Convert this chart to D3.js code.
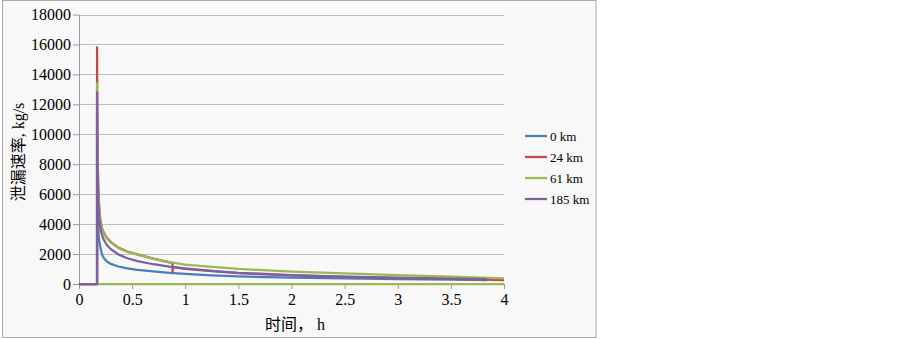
<!DOCTYPE html>
<html>
<head>
<meta charset="utf-8">
<script src="https://cdn.jsdelivr.net/npm/d3@7"></script>
<style>
  body { margin: 0; background: #fff; }
  text { font-family: "Liberation Serif", "Noto Sans CJK SC", serif; fill: #000; }
</style>
</head>
<body>
<div id="chart"></div>
<script>
// Leak rate vs time for four rupture locations

const seriesNames = ["0 km", "24 km", "61 km", "185 km"];
const seriesColors = ["#4a7ebb", "#be4b48", "#98b954", "#7d60a0"];

// 0 km
const time0 = [0, 0.17, 0.17, 0.172, 0.175, 0.18, 0.185, 0.19, 0.2, 0.21, 0.22, 0.235, 0.26, 0.3, 0.37, 0.455, 0.55, 0.7, 0.85, 1.0, 1.25, 1.5, 2.0, 2.5, 3.0, 3.5, 3.84];
const rate0 = [0, 0, 11500, 7500, 5500, 4000, 3300, 2900, 2500, 2150, 1920, 1720, 1520, 1340, 1170, 1040, 950, 840, 750, 680, 580, 505, 430, 375, 325, 285, 260];

// 24 km
const time24 = [0, 0.17, 0.17, 0.172, 0.175, 0.18, 0.185, 0.19, 0.2, 0.21, 0.22, 0.235, 0.26, 0.3, 0.37, 0.455, 0.55, 0.7, 0.88, 0.88, 0.885, 1.0, 1.25, 1.5, 2.0, 2.5, 3.0, 3.5, 4.0];
const rate24 = [0, 0, 15800, 11500, 9000, 7000, 5900, 5150, 4350, 3900, 3650, 3420, 3100, 2800, 2430, 2170, 1980, 1700, 1400, 800, 1120, 1010, 855, 725, 575, 470, 395, 335, 265];

// 61 km
const time61 = [4, 0, 0.17, 0.17, 0.172, 0.175, 0.18, 0.185, 0.19, 0.2, 0.21, 0.22, 0.235, 0.26, 0.3, 0.37, 0.455, 0.55, 0.7, 0.85, 1.0, 1.25, 1.5, 2.0, 2.5, 3.0, 3.5, 4.0];
const rate61 = [0, 0, 0, 13400, 10500, 8600, 6800, 5700, 5000, 4200, 3800, 3580, 3350, 3050, 2760, 2400, 2140, 1960, 1680, 1460, 1300, 1140, 1010, 830, 710, 600, 490, 380];

// 185 km
const time185 = [0, 0.17, 0.17, 0.172, 0.175, 0.18, 0.185, 0.19, 0.2, 0.21, 0.22, 0.235, 0.26, 0.3, 0.37, 0.455, 0.55, 0.7, 0.85, 1.0, 1.25, 1.5, 2.0, 2.5, 3.0, 3.5, 3.84];
const rate185 = [0, 0, 12800, 9500, 7600, 6000, 5000, 4400, 3800, 3450, 3200, 2940, 2620, 2320, 1980, 1720, 1530, 1320, 1160, 1040, 880, 750, 600, 495, 420, 360, 320];

const xTicks = [0, 0.5, 1, 1.5, 2, 2.5, 3, 3.5, 4];
const yTicks = [0, 2000, 4000, 6000, 8000, 10000, 12000, 14000, 16000, 18000];

const allTimes = [time0, time24, time61, time185];
const allRates = [rate0, rate24, rate61, rate185];

const width = 903;
const height = 339;

const svg = d3.select("#chart")
  .append("svg")
  .attr("width", width)
  .attr("height", height);

// chart frame
svg.append("rect")
  .attr("x", 2.5)
  .attr("y", 0.5)
  .attr("width", 593.5)
  .attr("height", 337)
  .attr("fill", "#f8f8f8")
  .attr("stroke", "#acacac");

const x = d3.scaleLinear().domain([0, 4]).range([79, 504]);
const y = d3.scaleLinear().domain([0, 18000]).range([284, 14.5]);

// gridlines
svg.append("g")
  .selectAll("line")
  .data(yTicks)
  .join("line")
  .attr("x1", x(0))
  .attr("x2", x(4))
  .attr("y1", d => Math.round(y(d)) + 0.5)
  .attr("y2", d => Math.round(y(d)) + 0.5)
  .attr("stroke", "#bdbdbd")
  .attr("stroke-width", 1);

// axes
const yAxis = svg.append("g")
  .attr("transform", `translate(${x(0)},0)`)
  .call(d3.axisLeft(y)
    .tickValues(yTicks)
    .tickFormat(d3.format("d"))
    .tickSize(6)
    .tickSizeOuter(0)
    .tickPadding(2));

const xAxis = svg.append("g")
  .attr("transform", `translate(0,${y(0)})`)
  .call(d3.axisBottom(x)
    .tickValues(xTicks)
    .tickFormat(d => String(d))
    .tickSize(5)
    .tickSizeOuter(0)
    .tickPadding(5));

[yAxis, xAxis].forEach(a => {
  a.attr("font-family", null).attr("font-size", null);
  a.selectAll("path, line").attr("stroke", "#999");
  a.selectAll("text")
    .style("font-size", "16px")
    .attr("fill", "#000");
});

// axis titles
svg.append("text")
  .attr("transform", `translate(24,152) rotate(-90)`)
  .attr("text-anchor", "middle")
  .style("font-size", "16px")
  .text("泄漏速率, kg/s");

svg.append("text")
  .attr("x", 295)
  .attr("y", 330)
  .attr("text-anchor", "middle")
  .style("font-size", "16px")
  .text("时间，  h");

// lines
const line = d3.line()
  .x(d => x(d[0]))
  .y(d => y(d[1]));

svg.append("g")
  .selectAll("path")
  .data(seriesNames.map((name, i) => ({
    name,
    color: seriesColors[i],
    points: allTimes[i].map((t, j) => [t, allRates[i][j]])
  })))
  .join("path")
  .attr("d", d => line(d.points))
  .attr("fill", "none")
  .attr("stroke", d => d.color)
  .attr("stroke-width", 2.25)
  .attr("stroke-linejoin", "round");

// legend
const legend = svg.append("g")
  .selectAll("g")
  .data(seriesNames)
  .join("g")
  .attr("transform", (d, i) => `translate(525,${136 + i * 21})`);

legend.append("line")
  .attr("x1", 0)
  .attr("x2", 22)
  .attr("stroke", (d, i) => seriesColors[i])
  .attr("stroke-width", 2.25);

legend.append("text")
  .attr("x", 25)
  .attr("dy", "0.35em")
  .style("font-size", "13px")
  .text(d => d);
</script>
</body>
</html>
